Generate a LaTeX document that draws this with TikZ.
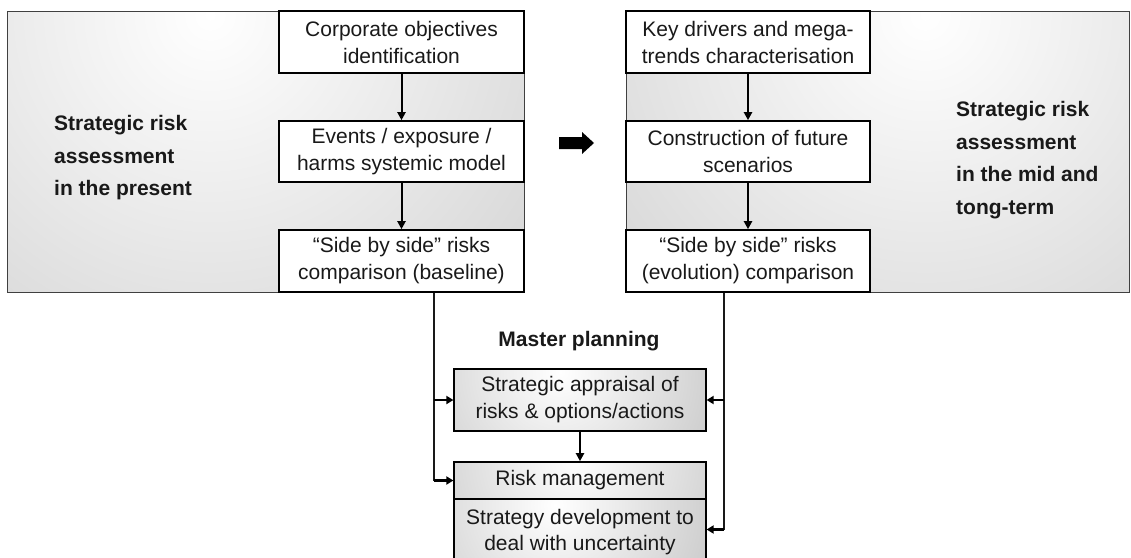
\documentclass[tikz,border=0pt]{standalone}
\usepackage{fontspec}
\setmainfont{Liberation Sans}
\usetikzlibrary{arrows.meta}
\tikzset{
  box/.style={draw=black, line width=1.2pt, fill=white, align=center, inner sep=0pt,
    font=\fontsize{21}{27}\selectfont, text=black!90},
  gbox/.style={draw=black, line width=1.2pt, align=center, inner sep=0pt,
    font=\fontsize{21}{27}\selectfont, text=black!90},
  lbl/.style={align=left, inner sep=0pt, font=\fontsize{21}{32.5}\selectfont\bfseries, text=black!90},
  arr/.style={line width=2pt, -{Triangle[length=8pt,width=8pt]}, shorten >=0.2pt},
  conn/.style={line width=1.1pt, draw=black!90},
  stub/.style={line width=2.4pt, -{Triangle[length=7pt,width=8pt]}},
  panel/.style={draw=black!75, line width=1pt},
}
\begin{document}
\begin{tikzpicture}[x=1pt, y=-1pt]
\useasboundingbox (0,0) rectangle (1131,557);
% panels
\begin{scope}
  \clip (7,11) rectangle (524,292);
  \shade[inner color=white, outer color=black!28] (210,15) circle (720pt);
\end{scope}
\draw[panel] (7,11) rectangle (524,292);
\begin{scope}
  \clip (626,11) rectangle (1129,292);
  \shade[inner color=white, outer color=black!28] (925,15) circle (720pt);
\end{scope}
\draw[panel] (626,11) rectangle (1129,292);

% left column
\node[box, minimum width=245pt, minimum height=62pt] (L1) at (401.5,42) {Corporate objectives\\identification};
\node[box, minimum width=245pt, minimum height=61pt] (L2) at (401.5,151.5) {Events / exposure /\\harms systemic model};
\node[box, minimum width=245pt, minimum height=62pt] (L3) at (401.5,261) {``Side by side'' risks\\comparison (baseline)};
\draw[arr] (L1) -- (L2);
\draw[arr] (L2) -- (L3);
\node[lbl, anchor=west] (LL) at (54,158) {Strategic risk\\assessment\\in the present};

% right column
\node[box, minimum width=244pt, minimum height=62pt] (R1) at (748,42) {Key drivers and mega-\\trends characterisation};
\node[box, minimum width=244pt, minimum height=61pt] (R2) at (748,151.5) {Construction of future\\scenarios};
\node[box, minimum width=244pt, minimum height=62pt] (R3) at (748,261) {``Side by side'' risks\\(evolution) comparison};
\draw[arr] (R1) -- (R2);
\draw[arr] (R2) -- (R3);
\node[lbl, anchor=west] (RL) at (956,160) {Strategic risk\\assessment\\in the mid and\\tong-term};

% block arrow
\fill[black] (559,137) -- (582,137) -- (582,132) -- (594,143) -- (582,154) -- (582,149) -- (559,149) -- cycle;

% master planning
\node[lbl, anchor=base] (MP) at (579,346) {Master planning};

\begin{scope}
  \clip (454,369) rectangle (706,431);
  \shade[inner color=white, outer color=black!40] (560,372) circle (330pt);
\end{scope}
\node[gbox, minimum width=252pt, minimum height=62pt] (B1) at (580,400) {Strategic appraisal of\\risks \& options/actions};

\begin{scope}
  \clip (454,462) rectangle (706,499);
  \shade[inner color=white, outer color=black!38] (575,458) circle (320pt);
\end{scope}
\begin{scope}
  \clip (454,499) rectangle (706,560);
  \shade[inner color=white, outer color=black!40] (555,505) circle (330pt);
\end{scope}
\node[gbox, minimum width=252pt, minimum height=37pt] (RM) at (580,480.5) {Risk management};
\node[gbox, minimum width=252pt, minimum height=61pt, text depth=0pt] (SD) at (580,529.5) {};
\node[align=center, inner sep=0pt, font=\fontsize{21}{26}\selectfont, text=black!90] (SDt) at (580,532) {Strategy development to\\deal with uncertainty};

\draw[arr] (B1) -- (RM);

% connectors from the panels
\coordinate (lt) at ([xshift=32.5pt]L3.south);
\coordinate (la) at (lt |- B1.west);
\coordinate (lb) at (lt |- RM.west);
\draw[conn] (lt) -- (lb);
\draw[stub] (la) -- (B1.west);
\draw[stub] (lb) -- (RM.west);

\coordinate (rt) at ([xshift=-24pt]R3.south);
\coordinate (ra) at (rt |- B1.east);
\coordinate (rb) at (rt |- SD.east);
\draw[conn] (rt) -- (rb);
\draw[stub] (ra) -- (B1.east);
\draw[stub] (rb) -- (SD.east);
\end{tikzpicture}
\end{document}
